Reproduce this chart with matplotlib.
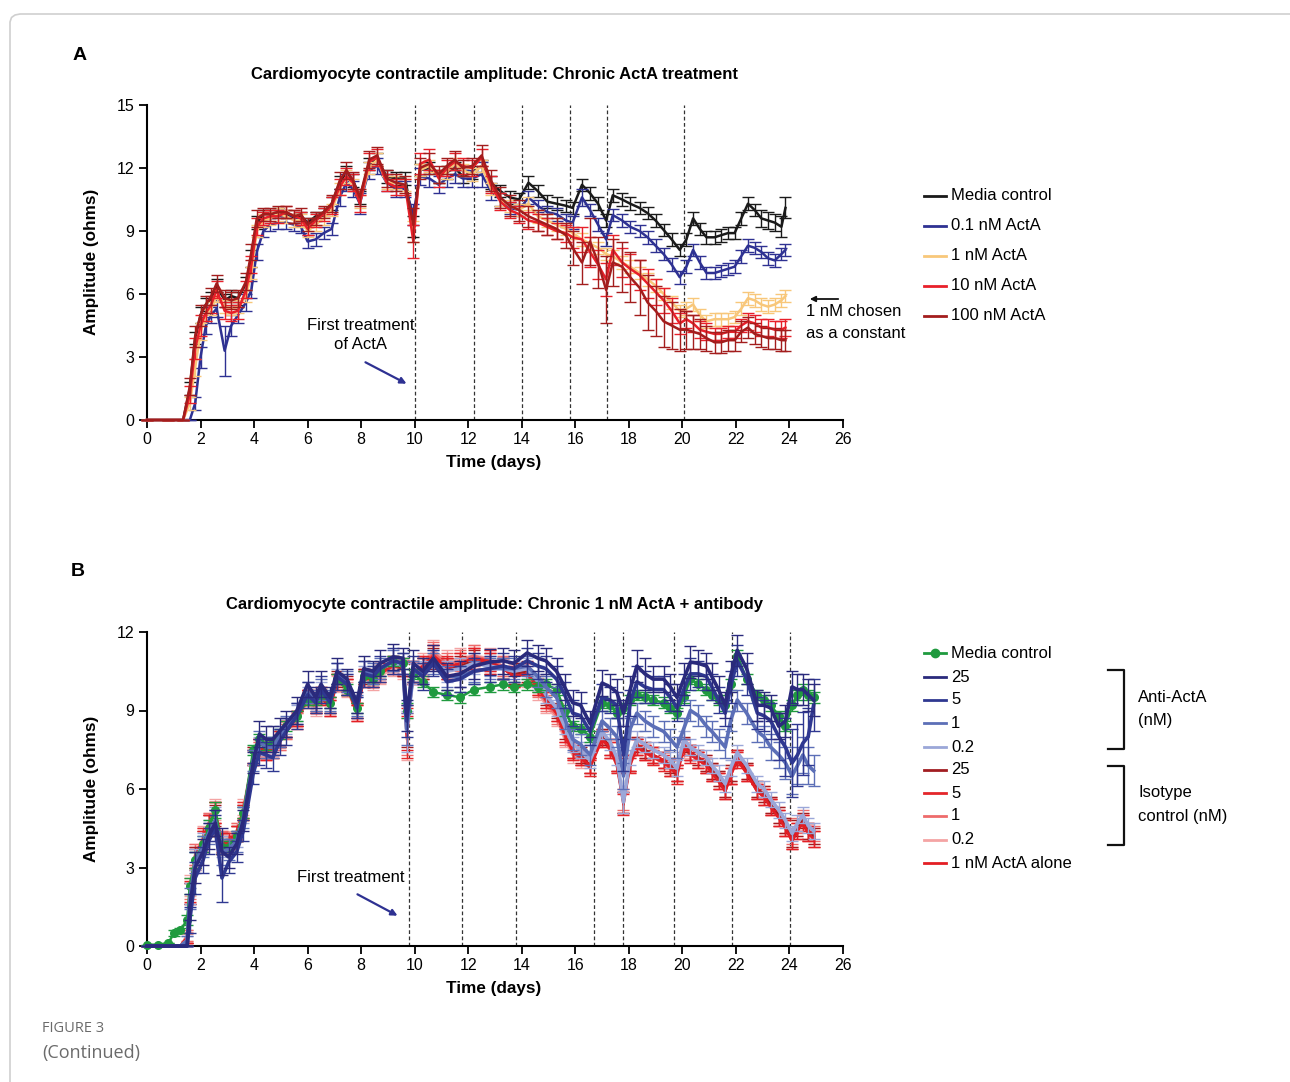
import matplotlib
matplotlib.use("Agg")
import matplotlib.pyplot as plt
from matplotlib.lines import Line2D
from matplotlib.patches import FancyArrowPatch

plt.rcParams['font.family'] = ['Liberation Sans', 'DejaVu Sans']

# ---------------- Panel A data ----------------
tA = [0, 0.8, 1.35, 1.6, 1.8, 2.0, 2.2, 2.4, 2.6, 2.9,
      3.15, 3.4, 3.7, 3.9, 4.1, 4.35, 4.6, 4.9, 5.2, 5.5,
      5.75, 6.0, 6.3, 6.6, 6.9, 7.2, 7.45, 7.7, 7.95, 8.3,
      8.6, 8.95, 9.3, 9.65, 9.95, 10.2, 10.55, 10.9, 11.2, 11.5,
      11.8, 12.15, 12.5, 12.85, 13.2, 13.55, 13.9, 14.25, 14.6, 14.95,
      15.3, 15.65, 15.9, 16.25, 16.55, 16.85, 17.15, 17.4, 17.75, 18.05,
      18.4, 18.7, 19.0, 19.3, 19.6, 19.9, 20.15, 20.4, 20.65, 20.9,
      21.2, 21.45, 21.7, 21.95, 22.2, 22.45, 22.7, 22.95, 23.2, 23.45,
      23.7, 23.85]

a_media = [0, 0, 0, 1.5, 3.9, 5.0, 5.5, 5.8, 6.4, 5.7,
           5.9, 5.8, 6.5, 7.7, 9.4, 9.8, 9.8, 9.9, 9.8, 9.6,
           9.7, 9.4, 9.7, 9.9, 10.3, 11.3, 11.8, 11.4, 10.6, 12.2,
           12.4, 11.6, 11.5, 11.5, 9.2, 11.9, 12.0, 11.6, 11.8, 12.0,
           11.6, 11.8, 12.1, 11.3, 10.9, 10.6, 10.5, 11.3, 10.9, 10.4,
           10.3, 10.2, 10.1, 11.2, 10.8, 10.3, 9.5, 10.7, 10.5, 10.3,
           10.1, 9.85, 9.5, 9.05, 8.6, 8.1, 8.6, 9.6, 9.1, 8.7,
           8.7, 8.8, 8.9, 8.9, 9.6, 10.3, 10.0, 9.6, 9.5, 9.4,
           9.2, 10.1]
a_01 = [0, 0, 0, 0, 0.8, 3.0, 4.5, 5.0, 5.3, 3.3,
        4.5, 5.0, 5.6, 6.2, 8.0, 9.0, 9.3, 9.4, 9.4, 9.3,
        9.2, 8.5, 8.6, 8.9, 9.1, 10.6, 11.3, 11.0, 10.3, 11.9,
        12.1, 11.3, 11.0, 11.0, 9.8, 11.6, 11.5, 11.2, 11.5, 11.7,
        11.5, 11.5, 11.7, 10.9, 10.5, 10.1, 10.0, 10.6, 10.2, 9.9,
        9.8, 9.5, 9.4, 10.6, 10.0, 9.3, 8.6, 9.76, 9.5, 9.2,
        9.0, 8.7, 8.3, 7.9, 7.4, 6.8, 7.3, 8.1, 7.5, 7.0,
        7.0, 7.1, 7.2, 7.3, 7.8, 8.3, 8.2, 8.0, 7.7, 7.6,
        7.9, 8.1]
a_1 = [0, 0, 0, 0.8, 2.5, 4.2, 5.0, 5.3, 5.9, 5.4,
       5.3, 5.4, 5.9, 7.0, 9.0, 9.5, 9.6, 9.8, 9.7, 9.5,
       9.5, 9.0, 9.3, 9.6, 10.0, 11.0, 11.6, 11.2, 10.4, 12.0,
       12.4, 11.3, 11.3, 11.2, 9.0, 11.9, 12.1, 11.6, 11.8, 12.2,
       11.9, 11.7, 12.1, 11.0, 10.5, 10.2, 10.0, 10.3, 9.7, 9.5,
       9.3, 9.1, 8.9, 8.6, 8.4, 8.2, 7.9, 7.8, 7.5, 7.3,
       7.0, 6.7, 6.4, 6.0, 5.6, 5.2, 5.3, 5.5, 5.0, 4.7,
       4.8, 4.8, 4.8, 4.9, 5.3, 5.8, 5.7, 5.5, 5.4, 5.5,
       5.7, 5.9]
a_10 = [0, 0, 0, 1.2, 3.4, 4.5, 5.1, 5.5, 6.2, 5.2,
        5.1, 5.2, 6.2, 7.4, 9.2, 9.6, 9.7, 9.7, 9.9, 9.7,
        9.6, 9.1, 9.5, 9.8, 10.2, 11.1, 11.6, 11.3, 10.3, 12.3,
        12.5, 11.3, 11.1, 11.1, 8.5, 12.2, 12.4, 11.5, 12.0, 12.3,
        12.1, 12.0, 12.5, 11.2, 10.4, 10.0, 9.8, 9.5, 9.4, 9.2,
        9.0, 8.9, 8.7, 8.6, 8.0, 7.4, 6.7, 8.1, 7.5, 7.2,
        6.9, 6.5, 6.1, 5.7, 5.2, 4.6, 4.8, 4.6, 4.3, 4.2,
        4.1, 4.1, 4.2, 4.2, 4.5, 4.7, 4.6, 4.4, 4.4, 4.3,
        4.3, 4.4]
a_100 = [0, 0, 0, 1.6, 4.0, 5.0, 5.5, 5.9, 6.5, 5.8,
         5.7, 5.8, 6.6, 8.0, 9.6, 9.8, 9.8, 9.9, 9.9, 9.7,
         9.8, 9.3, 9.6, 9.9, 10.3, 11.4, 11.9, 11.4, 10.6, 12.4,
         12.6, 11.5, 11.3, 11.2, 9.3, 12.0, 12.2, 11.7, 12.1, 12.4,
         12.0, 12.1, 12.6, 11.4, 10.6, 10.2, 10.0, 9.7, 9.5, 9.3,
         9.1, 8.8, 8.2, 7.5, 8.5, 7.5, 6.2, 7.5, 7.3, 6.8,
         6.3, 5.6, 5.2, 4.7, 4.5, 4.3, 4.3, 4.2, 4.1, 3.9,
         3.7, 3.7, 3.8, 3.8, 4.2, 4.4, 4.1, 4.0, 3.9, 3.9,
         3.8, 3.8]

e_media = [0, 0, 0, 0.3, 0.3, 0.4, 0.3, 0.3, 0.3, 0.3,
           0.3, 0.3, 0.3, 0.4, 0.3, 0.2, 0.2, 0.2, 0.2, 0.2,
           0.2, 0.2, 0.2, 0.2, 0.3, 0.3, 0.3, 0.3, 0.3, 0.3,
           0.3, 0.3, 0.3, 0.3, 0.5, 0.3, 0.3, 0.3, 0.3, 0.3,
           0.3, 0.3, 0.3, 0.3, 0.3, 0.3, 0.3, 0.3, 0.3, 0.3,
           0.3, 0.3, 0.3, 0.3, 0.3, 0.3, 0.3, 0.3, 0.3, 0.3,
           0.3, 0.3, 0.3, 0.3, 0.3, 0.3, 0.3, 0.3, 0.3, 0.3,
           0.3, 0.3, 0.3, 0.3, 0.3, 0.3, 0.3, 0.4, 0.4, 0.4,
           0.5, 0.5]
e_01 = [0, 0, 0, 0, 0.3, 0.5, 0.4, 0.4, 0.4, 1.2,
        0.5, 0.4, 0.4, 0.4, 0.4, 0.3, 0.3, 0.3, 0.3, 0.3,
        0.3, 0.3, 0.3, 0.3, 0.3, 0.4, 0.4, 0.4, 0.5, 0.4,
        0.4, 0.4, 0.4, 0.4, 0.5, 0.4, 0.4, 0.4, 0.4, 0.4,
        0.4, 0.4, 0.6, 0.4, 0.3, 0.3, 0.3, 0.3, 0.3, 0.3,
        0.3, 0.3, 0.3, 0.4, 0.3, 0.3, 0.3, 0.3, 0.3, 0.3,
        0.3, 0.3, 0.3, 0.3, 0.3, 0.3, 0.3, 0.3, 0.3, 0.3,
        0.3, 0.3, 0.3, 0.3, 0.3, 0.3, 0.3, 0.3, 0.3, 0.3,
        0.3, 0.3]
e_1 = [0, 0, 0, 0.3, 0.4, 0.4, 0.3, 0.3, 0.3, 0.3,
       0.3, 0.3, 0.3, 0.3, 0.3, 0.3, 0.3, 0.3, 0.3, 0.3,
       0.3, 0.3, 0.3, 0.3, 0.3, 0.3, 0.3, 0.3, 0.3, 0.3,
       0.3, 0.3, 0.3, 0.3, 0.5, 0.3, 0.3, 0.3, 0.3, 0.3,
       0.3, 0.3, 0.3, 0.3, 0.3, 0.3, 0.3, 0.3, 0.3, 0.3,
       0.3, 0.3, 0.3, 0.3, 0.3, 0.3, 0.3, 0.3, 0.3, 0.3,
       0.3, 0.3, 0.3, 0.3, 0.3, 0.3, 0.3, 0.3, 0.3, 0.3,
       0.3, 0.3, 0.3, 0.3, 0.3, 0.3, 0.3, 0.3, 0.3, 0.3,
       0.3, 0.3]
e_10 = [0, 0, 0, 0.4, 0.5, 0.5, 0.4, 0.4, 0.4, 0.4,
        0.4, 0.4, 0.4, 0.4, 0.4, 0.3, 0.3, 0.3, 0.3, 0.3,
        0.3, 0.3, 0.3, 0.3, 0.4, 0.4, 0.4, 0.4, 0.4, 0.4,
        0.4, 0.4, 0.4, 0.4, 0.8, 0.5, 0.5, 0.4, 0.4, 0.4,
        0.4, 0.4, 0.4, 0.4, 0.4, 0.4, 0.4, 0.4, 0.4, 0.4,
        0.4, 0.4, 0.5, 0.6, 0.7, 0.7, 0.8, 0.7, 0.7, 0.7,
        0.7, 0.7, 0.6, 0.6, 0.6, 0.5, 0.4, 0.4, 0.4, 0.4,
        0.3, 0.3, 0.3, 0.3, 0.3, 0.4, 0.4, 0.4, 0.4, 0.4,
        0.4, 0.4]
e_100 = [0, 0, 0, 0.4, 0.5, 0.5, 0.4, 0.4, 0.4, 0.4,
         0.4, 0.4, 0.4, 0.4, 0.4, 0.3, 0.3, 0.3, 0.3, 0.3,
         0.3, 0.3, 0.3, 0.3, 0.4, 0.4, 0.4, 0.4, 0.4, 0.4,
         0.4, 0.4, 0.4, 0.4, 0.8, 0.5, 0.5, 0.4, 0.4, 0.4,
         0.4, 0.4, 0.5, 0.5, 0.5, 0.5, 0.5, 0.5, 0.5, 0.5,
         0.5, 0.6, 0.8, 1.0, 1.1, 1.2, 1.6, 1.1, 1.2, 1.2,
         1.3, 1.3, 1.2, 1.2, 1.1, 1.0, 0.9, 0.8, 0.7, 0.6,
         0.5, 0.5, 0.5, 0.5, 0.5, 0.5, 0.5, 0.5, 0.5, 0.5,
         0.5, 0.5]

# ---------------- Panel B data ----------------
tB = [0, 0.4, 0.8, 1.0, 1.25, 1.5, 1.6, 1.8, 2.1, 2.3,
      2.55, 2.8, 3.05, 3.35, 3.6, 3.97, 4.2, 4.45, 4.7, 4.95,
      5.2, 5.6, 6.0, 6.3, 6.5, 6.84, 7.1, 7.47, 7.84, 8.1,
      8.45, 8.7, 9.2, 9.56, 9.7, 9.95, 10.3, 10.7, 11.2, 11.7,
      12.2, 12.8, 13.3, 13.7, 14.2, 14.6, 14.9, 15.3, 15.6, 15.9,
      16.2, 16.55, 17.0, 17.3, 17.55, 17.8, 18.05, 18.3, 18.6, 18.9,
      19.3, 19.55, 19.8, 20.05, 20.3, 20.6, 20.9, 21.1, 21.35, 21.6,
      21.8, 22.05, 22.4, 22.8, 23.05, 23.3, 23.6, 23.85, 24.1, 24.3,
      24.5, 24.7, 24.9]

b_media = [0.05, 0.05, 0.1, 0.5, 0.6, 1.0, 2.3, 3.3, 3.9, 4.5,
           5.2, 3.8, 3.8, 4.2, 5.1, 7.5, 7.9, 7.7, 7.8, 8.1,
           8.4, 8.8, 9.4, 9.4, 9.6, 9.3, 10.2, 9.8, 9.1, 10.3,
           10.2, 10.5, 10.9, 10.8, 9.0, 10.4, 10.1, 9.7, 9.6, 9.5,
           9.8, 9.9, 10.0, 9.9, 10.0, 9.9, 10.0, 9.8, 9.0, 8.4,
           8.3, 8.0, 9.3, 9.2, 8.9, 9.1, 9.4, 9.6, 9.5, 9.4,
           9.3, 9.1, 8.9, 9.5, 10.2, 10.0, 9.8, 9.6, 9.4, 9.2,
           10.0, 11.1, 10.2, 9.6, 9.4, 9.2, 8.8, 8.4, 9.2, 9.6,
           9.8, 9.6, 9.5]
b_anti25 = [0, 0, 0, 0, 0, 0, 1.5, 3.0, 3.6, 4.2,
            4.7, 3.6, 3.4, 3.9, 4.8, 7.0, 8.1, 7.9, 7.9, 8.2,
            8.5, 9.0, 10.0, 9.5, 10.0, 9.5, 10.5, 10.2, 9.3, 10.6,
            10.5, 10.8, 11.05, 11.0, 8.8, 10.8, 10.5, 11.0, 10.3, 10.4,
            10.7, 10.85, 10.9, 10.8, 11.2, 11.0, 10.9, 10.5, 9.9, 9.3,
            9.2, 8.5, 10.05, 9.9, 9.7, 8.9, 9.8, 10.7, 10.4, 10.2,
            10.2, 9.9, 9.5, 10.2, 10.85, 10.8, 10.7, 10.3, 9.8, 9.2,
            10.3, 11.3, 10.6, 9.2, 9.2, 9.1, 8.4, 8.6, 9.9, 9.8,
            9.8, 9.6, 9.4]
b_anti5 = [0, 0, 0, 0, 0, 0, 1.0, 2.6, 3.3, 4.0,
           4.5, 2.6, 3.2, 3.6, 4.4, 6.6, 7.4, 7.3, 7.2, 7.8,
           8.2, 8.8, 9.6, 9.3, 9.8, 9.3, 10.3, 10.0, 9.1, 10.4,
           10.3, 10.6, 10.9, 10.8, 8.6, 10.6, 10.3, 10.8, 10.1, 10.2,
           10.5, 10.6, 10.7, 10.6, 10.9, 10.7, 10.6, 10.2, 9.6, 8.9,
           8.8, 8.2, 9.5, 9.4, 9.2, 7.3, 9.3, 10.1, 9.9, 9.8,
           9.8, 9.5, 9.1, 9.8, 10.4, 10.4, 10.3, 9.9, 9.4, 8.9,
           9.9, 10.9, 10.2, 8.9, 8.8, 8.6, 8.0, 7.6, 7.0, 7.3,
           7.75, 8.0, 9.2]
b_anti1 = [0, 0, 0, 0, 0, 0.2, 1.8, 3.2, 3.8, 4.3,
           4.8, 3.6, 3.7, 4.0, 4.9, 7.1, 7.8, 7.6, 7.6, 8.0,
           8.4, 8.9, 9.7, 9.4, 9.8, 9.4, 10.4, 10.1, 9.2, 10.5,
           10.4, 10.6, 10.9, 10.8, 8.3, 10.5, 10.4, 10.8, 10.3, 10.3,
           10.5, 10.6, 10.6, 10.6, 10.7, 10.3, 9.9, 9.5, 8.7, 7.9,
           7.7, 7.3, 8.6, 8.3, 8.0, 6.5, 8.3, 8.9, 8.6, 8.4,
           8.2, 7.9, 7.6, 8.3, 9.0, 8.8, 8.4, 8.2, 7.9, 7.6,
           8.6, 9.4, 8.9, 8.2, 8.0, 7.6, 7.3, 7.0, 6.5, 6.9,
           7.3, 6.9, 6.7]
b_anti02 = [0, 0, 0, 0, 0, 0.2, 2.0, 3.3, 3.9, 4.4,
            4.9, 3.8, 3.8, 4.1, 5.0, 7.2, 7.7, 7.6, 7.6, 8.0,
            8.4, 8.9, 9.6, 9.4, 9.8, 9.4, 10.3, 10.1, 9.2, 10.4,
            10.4, 10.6, 10.8, 10.7, 8.2, 10.4, 10.5, 10.9, 10.5, 10.6,
            10.8, 10.7, 10.6, 10.5, 10.6, 10.1, 9.6, 9.1, 8.4, 7.7,
            7.5, 7.1, 8.2, 7.8, 7.2, 5.5, 7.2, 7.9, 7.7, 7.5,
            7.3, 7.1, 6.8, 7.9, 7.6, 7.4, 7.2, 6.9, 6.6, 6.2,
            6.8, 7.4, 6.9, 6.2, 6.0, 5.6, 5.2, 4.8, 4.3, 4.7,
            5.0, 4.6, 4.4]
b_iso25 = [0, 0, 0, 0, 0, 0.3, 2.0, 3.4, 4.0, 4.6,
           5.0, 3.9, 3.9, 4.3, 5.1, 7.3, 7.6, 7.5, 7.6, 7.9,
           8.3, 8.7, 9.5, 9.3, 9.6, 9.2, 10.2, 10.0, 9.0, 10.3,
           10.3, 10.5, 10.8, 10.6, 8.4, 10.5, 10.6, 11.0, 10.6, 10.7,
           10.9, 10.8, 10.6, 10.4, 10.5, 10.0, 9.5, 9.0, 8.2, 7.5,
           7.3, 6.9, 8.0, 7.6, 7.0, 5.5, 7.0, 7.7, 7.5, 7.3,
           7.1, 6.9, 6.6, 7.7, 7.4, 7.2, 7.0, 6.7, 6.4, 6.0,
           6.6, 7.2, 6.7, 6.0, 5.8, 5.4, 5.0, 4.6, 4.1, 4.5,
           4.8, 4.4, 4.2]
b_iso5 = [0, 0, 0, 0, 0, 0.3, 2.1, 3.4, 4.1, 4.6,
          5.1, 3.9, 4.0, 4.3, 5.2, 7.2, 7.6, 7.5, 7.5, 7.9,
          8.3, 8.7, 9.5, 9.2, 9.6, 9.2, 10.1, 9.9, 9.0, 10.3,
          10.2, 10.4, 10.7, 10.6, 8.0, 10.4, 10.6, 11.1, 10.7, 10.8,
          11.0, 10.9, 10.6, 10.3, 10.4, 9.9, 9.4, 8.9, 8.1, 7.4,
          7.2, 6.8, 7.9, 7.5, 6.9, 5.4, 6.9, 7.6, 7.4, 7.2,
          7.0, 6.8, 6.5, 7.6, 7.3, 7.1, 6.9, 6.6, 6.3, 5.9,
          6.5, 7.1, 6.6, 5.9, 5.7, 5.3, 4.9, 4.5, 4.0, 4.4,
          4.7, 4.3, 4.1]
b_iso1 = [0, 0, 0, 0, 0, 0.4, 2.2, 3.5, 4.1, 4.7,
          5.1, 4.0, 4.0, 4.4, 5.2, 7.2, 7.5, 7.4, 7.5, 7.8,
          8.2, 8.6, 9.4, 9.2, 9.5, 9.1, 10.1, 9.9, 8.9, 10.2,
          10.2, 10.4, 10.7, 10.6, 8.1, 10.5, 10.7, 11.2, 10.8, 10.9,
          11.1, 10.9, 10.7, 10.4, 10.4, 9.8, 9.3, 8.8, 8.0, 7.4,
          7.2, 6.9, 8.0, 7.5, 7.0, 5.6, 7.0, 7.7, 7.5, 7.3,
          7.1, 6.9, 6.6, 7.6, 7.4, 7.2, 7.0, 6.7, 6.4, 6.0,
          6.6, 7.2, 6.7, 6.0, 5.8, 5.4, 5.0, 4.6, 4.2, 4.6,
          4.9, 4.4, 4.3]
b_iso02 = [0, 0, 0, 0, 0, 0.4, 2.3, 3.5, 4.2, 4.7,
           5.2, 4.0, 4.1, 4.4, 5.3, 7.3, 7.5, 7.4, 7.5, 7.8,
           8.2, 8.6, 9.4, 9.1, 9.5, 9.1, 10.0, 9.8, 8.9, 10.2,
           10.1, 10.3, 10.6, 10.5, 7.9, 10.5, 10.8, 11.3, 10.9, 11.0,
           11.1, 11.0, 10.7, 10.4, 10.3, 9.7, 9.2, 8.7, 7.9, 7.3,
           7.1, 6.8, 7.9, 7.5, 6.9, 5.5, 6.9, 7.6, 7.4, 7.2,
           7.0, 6.8, 6.5, 7.5, 7.3, 7.1, 6.9, 6.6, 6.3, 5.9,
           6.5, 7.1, 6.6, 5.9, 5.7, 5.3, 4.9, 4.5, 4.1, 4.5,
           4.8, 4.4, 4.2]
b_acta = [0, 0, 0, 0, 0, 0.3, 2.0, 3.3, 4.0, 4.6,
          5.1, 3.9, 3.9, 4.3, 5.1, 7.2, 7.6, 7.4, 7.6, 7.9,
          8.3, 8.7, 9.5, 9.2, 9.5, 9.1, 10.1, 9.9, 8.9, 10.2,
          10.2, 10.5, 10.8, 10.7, 8.3, 10.4, 10.7, 11.1, 10.6, 10.8,
          11.0, 10.8, 10.6, 10.3, 10.4, 9.9, 9.4, 8.9, 8.1, 7.5,
          7.2, 6.9, 7.9, 7.6, 7.0, 5.5, 7.0, 7.6, 7.4, 7.3,
          7.1, 6.8, 6.6, 7.6, 7.4, 7.1, 6.9, 6.6, 6.3, 5.9,
          6.5, 7.2, 6.6, 5.9, 5.7, 5.3, 4.9, 4.5, 4.0, 4.4,
          4.7, 4.3, 4.1]

eb_navy = [0, 0, 0, 0, 0, 0, 0.5, 0.6, 0.5, 0.5,
           0.5, 0.9, 0.4, 0.4, 0.4, 0.4, 0.5, 0.5, 0.5, 0.5,
           0.5, 0.5, 0.5, 0.4, 0.5, 0.4, 0.5, 0.4, 0.4, 0.5,
           0.4, 0.5, 0.5, 0.4, 0.6, 0.5, 0.5, 0.5, 0.5, 0.5,
           0.5, 0.5, 0.5, 0.5, 0.5, 0.5, 0.5, 0.5, 0.5, 0.5,
           0.5, 0.5, 0.5, 0.5, 0.5, 0.5, 0.5, 0.6, 0.6, 0.5,
           0.5, 0.5, 0.5, 0.6, 0.6, 0.5, 0.5, 0.5, 0.5, 0.5,
           0.6, 0.6, 0.6, 0.6, 0.5, 0.5, 0.5, 0.6, 0.6, 0.6,
           0.6, 0.6, 0.6]
eb_navy5 = [0, 0, 0, 0, 0, 0, 0.5, 0.6, 0.5, 0.5,
            0.5, 0.9, 0.4, 0.4, 0.4, 0.4, 0.5, 0.5, 0.5, 0.5,
            0.5, 0.5, 0.5, 0.4, 0.5, 0.4, 0.5, 0.4, 0.4, 0.5,
            0.4, 0.5, 0.5, 0.4, 0.6, 0.5, 0.5, 0.5, 0.5, 0.5,
            0.5, 0.5, 0.5, 0.5, 0.5, 0.5, 0.5, 0.5, 0.5, 0.5,
            0.5, 0.5, 0.5, 0.5, 0.5, 0.6, 0.5, 0.6, 0.6, 0.5,
            0.5, 0.5, 0.5, 0.6, 0.6, 0.5, 0.5, 0.5, 0.5, 0.5,
            0.6, 0.6, 0.6, 0.6, 0.6, 0.7, 0.9, 1.1, 1.3, 1.2,
            1.2, 1.1, 1.0]
eb_mid = [0, 0, 0, 0, 0, 0.2, 0.4, 0.4, 0.4, 0.4,
          0.4, 0.5, 0.4, 0.4, 0.4, 0.4, 0.4, 0.4, 0.4, 0.4,
          0.4, 0.4, 0.4, 0.4, 0.4, 0.4, 0.4, 0.4, 0.4, 0.4,
          0.4, 0.4, 0.4, 0.4, 0.6, 0.4, 0.4, 0.4, 0.4, 0.4,
          0.4, 0.4, 0.4, 0.4, 0.4, 0.4, 0.4, 0.4, 0.4, 0.4,
          0.4, 0.4, 0.4, 0.4, 0.4, 0.5, 0.4, 0.4, 0.4, 0.4,
          0.4, 0.4, 0.4, 0.4, 0.4, 0.4, 0.4, 0.4, 0.4, 0.4,
          0.4, 0.4, 0.4, 0.4, 0.4, 0.5, 0.5, 0.6, 0.7, 0.7,
          0.7, 0.7, 0.6]
eb_low = [0, 0, 0, 0, 0, 0.2, 0.4, 0.4, 0.4, 0.4,
          0.4, 0.4, 0.3, 0.3, 0.3, 0.3, 0.3, 0.3, 0.3, 0.3,
          0.3, 0.3, 0.3, 0.3, 0.3, 0.3, 0.3, 0.3, 0.3, 0.3,
          0.3, 0.3, 0.3, 0.3, 0.8, 0.4, 0.4, 0.4, 0.4, 0.4,
          0.4, 0.4, 0.4, 0.4, 0.4, 0.3, 0.3, 0.3, 0.3, 0.3,
          0.3, 0.3, 0.3, 0.3, 0.3, 0.4, 0.3, 0.3, 0.3, 0.3,
          0.3, 0.3, 0.3, 0.3, 0.3, 0.3, 0.3, 0.3, 0.3, 0.3,
          0.3, 0.3, 0.3, 0.3, 0.3, 0.3, 0.3, 0.3, 0.3, 0.3,
          0.3, 0.3, 0.3]
eb_green = [0, 0, 0, 0.1, 0.1, 0.2, 0.3, 0.3, 0.3, 0.3,
            0.3, 0.3, 0.2, 0.2, 0.2, 0.2, 0.2, 0.2, 0.2, 0.2,
            0.2, 0.2, 0.2, 0.2, 0.2, 0.2, 0.2, 0.2, 0.2, 0.2,
            0.2, 0.2, 0.2, 0.2, 0.3, 0.2, 0.2, 0.2, 0.2, 0.2,
            0.2, 0.2, 0.2, 0.2, 0.2, 0.2, 0.2, 0.2, 0.2, 0.2,
            0.2, 0.2, 0.2, 0.2, 0.2, 0.2, 0.2, 0.2, 0.2, 0.2,
            0.2, 0.2, 0.2, 0.2, 0.2, 0.2, 0.2, 0.2, 0.2, 0.2,
            0.2, 0.2, 0.2, 0.2, 0.2, 0.2, 0.2, 0.2, 0.2, 0.2,
            0.2, 0.2, 0.2]

vlines_A = [10.0, 12.2, 14.0, 15.8, 17.2, 20.05]
vlines_B = [9.8, 11.77, 13.78, 16.7, 17.78, 19.7, 21.85, 24.02]

labels_A = ["Media control", "0.1 nM ActA", "1 nM ActA", "10 nM ActA", "100 nM ActA"]
colors_A = ["#1a1a1a", "#2e3192", "#f8c77a", "#e8202a", "#a31d1d"]

labels_B = ["Media control", "25", "5", "1", "0.2", "25", "5", "1", "0.2", "1 nM ActA alone"]
colors_B = ["#1f9a3e", "#2a2a7c", "#2f3891", "#5c6fb7", "#9ba7d8",
            "#a11d21", "#e4262a", "#ee6b6b", "#f4a4a4", "#e31e24"]

# ---------------- Figure ----------------
W, H = 1290, 1082
fig = plt.figure(figsize=(12.9, 10.82), dpi=100)


def fx(px):
    return px / W


def fy(py):
    return 1 - py / H


# frame
fig.add_artist(Line2D([fx(10), fx(10), fx(11.5), fx(15), fx(20), fx(1295)],
                      [fy(1090), fy(22), fy(17.5), fy(15), fy(14), fy(14)],
                      color="#cfcfcf", lw=1.2, transform=fig.transFigure))


def style_axes(ax, ymax, yticks):
    ax.set_xlim(0, 26)
    ax.set_ylim(0, ymax)
    ax.set_xticks(range(0, 27, 2))
    ax.set_yticks(yticks)
    for s in ["top", "right"]:
        ax.spines[s].set_visible(False)
    for s in ["left", "bottom"]:
        ax.spines[s].set_linewidth(1.5)
    ax.tick_params(direction="out", length=6, width=1.3, labelsize=11.5, pad=3)


def eb(ax, t, v, e, c, lw, z, marker=None, ms=0):
    ax.errorbar(t, v, yerr=e, color=c, lw=lw, elinewidth=1.0, capsize=4,
                capthick=1.0, zorder=z, marker=marker, ms=ms, clip_on=False)


# Panel A
axA = fig.add_axes([fx(147), fy(420), (843 - 147) / W, (420 - 105) / H])
style_axes(axA, 15, [0, 3, 6, 9, 12, 15])
for x in vlines_A:
    axA.axvline(x, color="#333333", lw=0.9, ls=(0, (3, 2)), zorder=1)
seriesA = [a_media, a_01, a_1, a_10, a_100]
errsA = [e_media, e_01, e_1, e_10, e_100]
for i, (v, e) in enumerate(zip(seriesA, errsA)):
    eb(axA, tA, v, e, colors_A[i], 1.8, 3 + i)

# Panel B
axB = fig.add_axes([fx(147), fy(946), (843 - 147) / W, (946 - 632) / H])
style_axes(axB, 12, [0, 3, 6, 9, 12])
for x in vlines_B:
    axB.axvline(x, color="#333333", lw=0.9, ls=(0, (3, 2)), zorder=1)
eb(axB, tB, b_iso02, eb_low, colors_B[8], 1.8, 3)
eb(axB, tB, b_iso1, eb_low, colors_B[7], 1.8, 4)
eb(axB, tB, b_iso5, eb_low, colors_B[6], 1.8, 5)
eb(axB, tB, b_iso25, eb_low, colors_B[5], 1.8, 6)
eb(axB, tB, b_acta, eb_low, colors_B[9], 1.8, 7)
eb(axB, tB, b_anti02, eb_low, colors_B[4], 2.6, 8)
eb(axB, tB, b_media, eb_green, colors_B[0], 1.8, 9, marker="o", ms=5.5)
eb(axB, tB, b_anti1, eb_mid, colors_B[3], 2.6, 10)
eb(axB, tB, b_anti5, eb_navy5, colors_B[2], 2.6, 11)
eb(axB, tB, b_anti25, eb_navy, colors_B[1], 2.6, 12)

# Texts
fig.text(fx(80), fy(56), "A", fontsize=14, fontweight="bold", ha="center", va="center")
fig.text(fx(78), fy(572), "B", fontsize=14, fontweight="bold", ha="center", va="center")
fig.text(fx(494.5), fy(75), "Cardiomyocyte contractile amplitude: Chronic ActA treatment",
         fontsize=12, fontweight="bold", ha="center", va="center")
fig.text(fx(494.5), fy(605), "Cardiomyocyte contractile amplitude: Chronic 1 nM ActA + antibody",
         fontsize=12, fontweight="bold", ha="center", va="center")
for yc in (262, 789):
    fig.text(fx(91), fy(yc), "Amplitude (ohms)", fontsize=12.3, fontweight="bold",
             rotation=90, ha="center", va="center")
fig.text(fx(494), fy(462), "Time (days)", fontsize=12.3, fontweight="bold", ha="center", va="center")
fig.text(fx(494), fy(988), "Time (days)", fontsize=12.3, fontweight="bold", ha="center", va="center")

# annotations panel A
fig.text(fx(361), fy(325), "First treatment", fontsize=12, ha="center", va="center")
fig.text(fx(361), fy(345), "of ActA", fontsize=12, ha="center", va="center")
fig.add_artist(FancyArrowPatch((fx(363), fy(361)), (fx(409), fy(385)), arrowstyle="-|>",
                               mutation_scale=9, color="#2e3192", lw=1.6,
                               transform=fig.transFigure))
fig.add_artist(FancyArrowPatch((fx(841), fy(299)), (fx(807), fy(299)), arrowstyle="-|>",
                               mutation_scale=8, color="#111111", lw=1.3,
                               transform=fig.transFigure))
fig.text(fx(806), fy(312), "1 nM chosen", fontsize=12, ha="left", va="center")
fig.text(fx(806), fy(333), "as a constant", fontsize=12, ha="left", va="center")

# annotations panel B
fig.text(fx(351), fy(877), "First treatment", fontsize=12, ha="center", va="center")
fig.add_artist(FancyArrowPatch((fx(355), fy(893)), (fx(400), fy(917)), arrowstyle="-|>",
                               mutation_scale=9, color="#2e3192", lw=1.6,
                               transform=fig.transFigure))


def legend_entry(py, color, label, marker=False):
    fig.add_artist(Line2D([fx(924), fx(946)], [fy(py), fy(py)], color=color, lw=2.0,
                          transform=fig.transFigure))
    if marker:
        fig.add_artist(Line2D([fx(935)], [fy(py)], color=color, marker="o", ms=6,
                              transform=fig.transFigure))
    fig.text(fx(951), fy(py), label, fontsize=12, ha="left", va="center")


for py, c, lab in zip([196, 226, 256, 286, 316], colors_A, labels_A):
    legend_entry(py, c, lab)

for i, (py, c, lab) in enumerate(zip([653, 677, 700, 723, 747, 770, 793, 816, 840, 863],
                                     colors_B, labels_B)):
    legend_entry(py, c, lab, marker=(i == 0))

for top, bot in ((670, 749), (766, 845)):
    fig.add_artist(Line2D([fx(1108), fx(1124), fx(1124), fx(1108)],
                          [fy(top), fy(top), fy(bot), fy(bot)], color="#111111", lw=1.6,
                          transform=fig.transFigure))
fig.text(fx(1138), fy(698), "Anti-ActA", fontsize=12, ha="left", va="center")
fig.text(fx(1138), fy(721), "(nM)", fontsize=12, ha="left", va="center")
fig.text(fx(1138), fy(793), "Isotype", fontsize=12, ha="left", va="center")
fig.text(fx(1138), fy(816), "control (nM)", fontsize=12, ha="left", va="center")

fig.text(fx(42), fy(1028), "FIGURE 3", fontsize=10.5, color="#6b6b6b", ha="left", va="center",
         family=["Open Sans", "DejaVu Sans"])
fig.text(fx(42), fy(1053), "(Continued)", fontsize=13, color="#6b6b6b", ha="left", va="center",
         family=["Open Sans", "DejaVu Sans"])

fig.savefig("out.png", dpi=100)
